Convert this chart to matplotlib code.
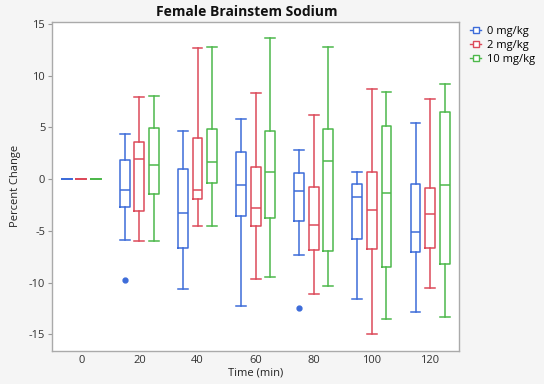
import matplotlib
matplotlib.use("Agg")
import matplotlib.pyplot as plt
from matplotlib.lines import Line2D

plt.rcParams['font.family'] = ['Open Sans', 'DejaVu Sans']
plt.rcParams['axes.unicode_minus'] = False

times = [0, 20, 40, 60, 80, 100, 120]
series = ["0 mg/kg", "2 mg/kg", "10 mg/kg"]
colors = ["#3D6CD9", "#DC4A5A", "#4DB84B"]
offsets = [-5, 0, 5]

# per series: whislo, q1, med, q3, whishi
whislo_0 = [0, -5.84, -10.58, -12.28, -7.32, -11.6, -12.83]
q1_0     = [0, -2.68, -6.61, -3.55, -4.06, -5.77, -7.06]
med_0    = [0, -1.03, -3.26, -0.55, -1.13, -1.74, -5.13]
q3_0     = [0, 1.87, 0.97, 2.67, 0.58, -0.42, -0.49]
whishi_0 = [0, 4.41, 4.64, 5.86, 2.86, 0.74, 5.47]
fliers_0 = [[], [-9.77], [], [], [-12.41], [], []]

whislo_2 = [0, -5.93, -4.48, -9.67, -11.06, -15.0, -10.48]
q1_2     = [0, -3.1, -1.94, -4.55, -6.80, -6.74, -6.67]
med_2    = [0, 1.96, -1.03, -2.78, -4.45, -3.0, -3.39]
q3_2     = [0, 3.58, 3.96, 1.16, -0.71, 0.74, -0.87]
whishi_2 = [0, 7.9, 12.7, 8.35, 6.19, 8.70, 7.73]
fliers_2 = [[], [], [], [], [], [], []]

whislo_10 = [0, -5.93, -4.55, -9.45, -10.32, -13.48, -13.32]
q1_10     = [0, -1.45, -0.39, -3.74, -6.97, -8.45, -8.19]
med_10    = [0, 1.41, 1.64, 0.74, 1.80, -1.29, -0.55]
q3_10     = [0, 4.93, 4.83, 4.67, 4.86, 5.18, 6.51]
whishi_10 = [0, 8.05, 12.8, 13.6, 12.8, 8.41, 9.22]
fliers_10 = [[], [], [], [], [], [], []]

data = [
    (whislo_0, q1_0, med_0, q3_0, whishi_0, fliers_0),
    (whislo_2, q1_2, med_2, q3_2, whishi_2, fliers_2),
    (whislo_10, q1_10, med_10, q3_10, whishi_10, fliers_10),
]

fig = plt.figure(figsize=(5.44, 3.84), dpi=100)
fig.patch.set_facecolor("#F5F5F5")
ax = fig.add_axes([0.096, 0.086, 0.748, 0.857])
ax.set_facecolor("white")

for si, (lo, q1, med, q3, hi, fl) in enumerate(data):
    stats = []
    for i in range(len(times)):
        stats.append(dict(whislo=lo[i], q1=q1[i], med=med[i], q3=q3[i],
                          whishi=hi[i], fliers=fl[i]))
    c = colors[si]
    pos = [t + offsets[si] for t in times]
    ax.bxp(stats, positions=pos, widths=3.4, showfliers=True,
           boxprops=dict(color=c, linewidth=1.1),
           medianprops=dict(color=c, linewidth=1.1),
           whiskerprops=dict(color=c, linewidth=1.1),
           capprops=dict(color=c, linewidth=1.1),
           flierprops=dict(marker='o', markerfacecolor=c, markeredgecolor=c,
                           markersize=3.5, linestyle='none'),
           capwidths=3.4, manage_ticks=False)

ax.set_xlim(-10, 130)
ax.set_ylim(-16.6, 15.2)
ax.set_xticks(times)
ax.set_xticklabels([str(t) for t in times])
ax.set_yticks([-15, -10, -5, 0, 5, 10, 15])
ax.tick_params(axis='x', length=0, labelsize=8, colors="#333333", pad=3)
ax.tick_params(axis='y', length=3, labelsize=8, colors="#333333", pad=2)
ax.tick_params(axis='y', color="#999999")
for s in ax.spines.values():
    s.set_color("#AAAAAA")
    s.set_linewidth(1.0)

ax.set_xlabel("Time (min)", fontsize=8, color="#222222", labelpad=1)
ax.set_ylabel("Percent Change", fontsize=8, color="#222222", labelpad=6)
ax.set_title("Female Brainstem Sodium", fontsize=10, fontweight='bold',
             color="#111111", pad=4, x=0.478)

handles = [Line2D([0], [0], color=c, marker='s', markersize=5,
                  markerfacecolor='white', markeredgecolor=c, linewidth=1.0)
           for c in colors]
leg = fig.legend(handles, series, loc='upper left', bbox_to_anchor=(0.856, 0.945),
                 frameon=False, fontsize=8, handlelength=1.0, handletextpad=0.5,
                 labelspacing=0.3, borderaxespad=0)

fig.savefig("out.png", dpi=100, facecolor=fig.get_facecolor())
